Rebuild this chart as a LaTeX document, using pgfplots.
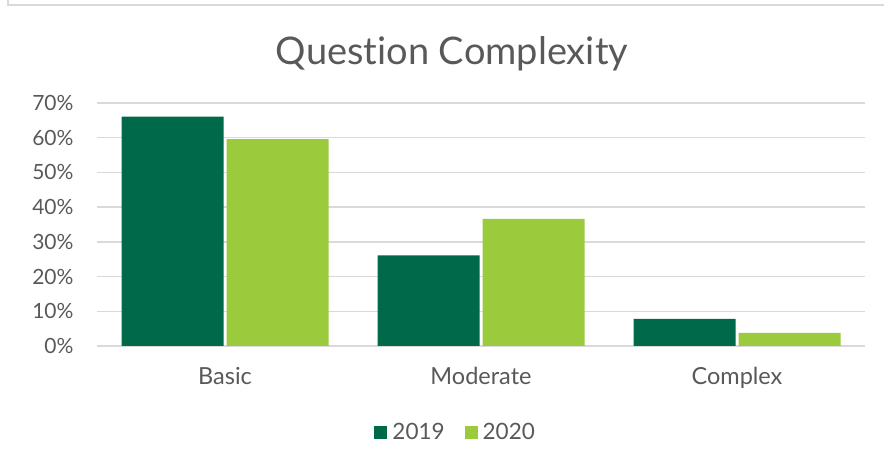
\documentclass[border=0pt]{standalone}
\usepackage{pgfplots}
\pgfplotsset{compat=1.18}
\usepackage{fontspec}
\setmainfont{Lato}[Ligatures=NoCommon]
\definecolor{dgreen}{HTML}{00694A}
\definecolor{lgreen}{HTML}{9BCB3C}
\definecolor{txt}{HTML}{595959}
\definecolor{gridc}{HTML}{D9D9D9}
\begin{document}
\begin{tikzpicture}[x=1pt,y=1pt]
\useasboundingbox (0,0) rectangle (884,465);
\draw[gridc, line width=1.5pt] (8,465) -- (8,460) -- (884,460);
\node[anchor=base, text=txt, font=\fontsize{38}{40}\selectfont] at (452,400) {Ques{}tion Complexity};
\begin{axis}[
  at={(97pt,119pt)}, anchor=south west,
  width=768pt, height=243pt, scale only axis,
  xmin=-0.5, xmax=2.5, ymin=0, ymax=70,
  ybar=3pt, bar width=102pt,
  axis line style={draw=none},
  major tick length=0pt,
  xtick={0,1,2}, xticklabels={Basic,Moderate,Complex},
  ytick={0,10,...,70},
  yticklabel={\pgfmathprintnumber{\tick}\%},
  /pgf/number format/assume math mode=true,
  ymajorgrids, xmajorgrids=false, grid style={gridc, line width=1.4pt},
  yticklabel style={text=txt, font=\fontsize{21}{24}\selectfont, xshift=-20pt},
  xticklabel style={text=txt, font=\fontsize{23.5}{26}\selectfont, yshift=-18pt},
  legend columns=2,
  legend style={draw=none, fill=none, at={(0.467,-0.354)}, anchor=center,
    font=\fontsize{22.5}{24}\selectfont, text=txt,
    /tikz/every odd column/.append style={column sep=3pt},
    /tikz/every even column/.append style={column sep=18pt}},
  legend image code/.code={\fill[#1] (0pt,-6.5pt) rectangle (13pt,6.5pt);},
]
\addplot[fill=dgreen, draw=none] coordinates {(0,66.1) (1,26.1) (2,7.8)};
\addplot[fill=lgreen, draw=none] coordinates {(0,59.6) (1,36.6) (2,3.8)};
\legend{2019,2020}
\end{axis}
\end{tikzpicture}
\end{document}
